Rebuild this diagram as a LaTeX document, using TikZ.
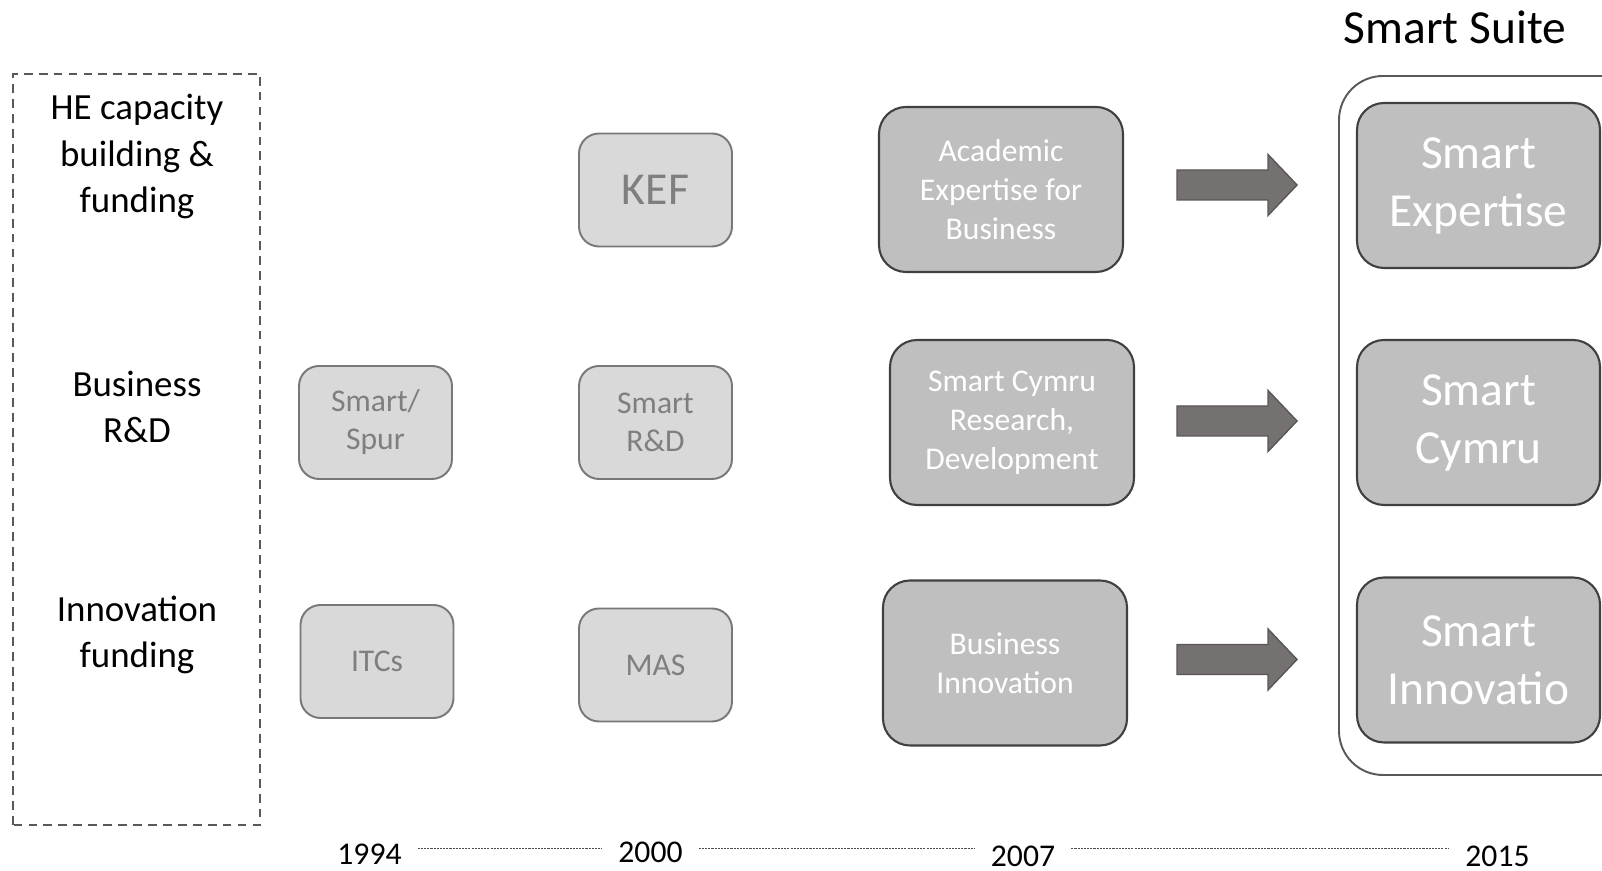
\documentclass[tikz,border=0pt]{standalone}
\usepackage{fontspec}
\setmainfont{Carlito}

\definecolor{outline}{HTML}{595959}
\definecolor{lightfill}{HTML}{D9D9D9}
\definecolor{lightedge}{HTML}{7A7777}
\definecolor{lighttext}{HTML}{7F7F7F}
\definecolor{darkfill}{HTML}{BFBFBF}
\definecolor{darkedge}{HTML}{404040}
\definecolor{arrowfill}{HTML}{767171}
\definecolor{arrowedge}{HTML}{5A5656}

\begin{document}
\begin{tikzpicture}[
    topic/.style={align=center, font=\fontsize{21}{26.5}\selectfont},
    oldbox/.style={draw=lightedge, fill=lightfill, line width=1.1pt,
      rounded corners=0.4cm, minimum width=3.06cm, minimum height=2.26cm,
      align=center, text=lighttext, font=\fontsize{18}{21.6}\selectfont},
    newbox/.style={draw=darkedge, fill=darkfill, line width=1.2pt,
      rounded corners=0.54cm, minimum width=4.88cm, minimum height=3.3cm,
      align=center, text=white, font=\fontsize{18}{22.3}\selectfont},
    smartbox/.style={newbox, minimum width=4.86cm,
      font=\fontsize{27}{33}\selectfont},
    bigarrow/.style={draw=arrowedge, fill=arrowfill, line width=0.8pt},
    year/.style={font=\fontsize{18}{22}\selectfont},
    timeline/.style={draw=black!70, line width=0.5pt,
      dash pattern=on 1.2pt off 0.6pt, shorten <=0.2cm, shorten >=0.2cm},
  ]
    \useasboundingbox (0,0) rectangle (32.04,17.42);

    % themes
    \draw[draw=outline, line width=1.1pt, dash pattern=on 5pt off 3.5pt]
      (0.26,0.92) rectangle (5.20,15.94);
    \node[topic] (he) at (2.74,14.29) {HE capacity\\building \&\\funding};
    \node[topic] (bus) at (2.74,9.28) {Business\\R\&D};
    \node[topic] (inn) at (2.74,4.72) {Innovation\\funding};

    % earlier schemes
    \node[oldbox] (spur) at (7.51,8.97) {Smart/\\Spur};
    \node[oldbox] (itc) at (7.54,4.19) {ITCs};
    \node[oldbox, font=\fontsize{26}{31}\selectfont] (kef) at (13.11,13.62) {KEF};
    \node[oldbox] (srd) at (13.11,8.97) {Smart\\R\&D};
    \node[oldbox] (mas) at (13.11,4.12) {MAS};

    \node[newbox] (aeb) at (20.02,13.63) {Academic\\Expertise for\\Business};
    \node[newbox] (scr) at (20.24,8.97) {Smart Cymru\\Research,\\Development};
    \node[newbox] (bi) at (20.10,4.16) {Business\\Innovation};

    \foreach \y in {13.72,9.00,4.23}
      \draw[bigarrow] (23.54,\y+0.3) -- (25.36,\y+0.3) -- (25.36,\y+0.61)
        -- (25.94,\y) -- (25.36,\y-0.61) -- (25.36,\y-0.3)
        -- (23.54,\y-0.3) -- cycle;

    % smart suite
    \node[font=\fontsize{27}{33}\selectfont] (suite) at (29.10,16.88) {Smart Suite};
    \draw[draw=outline, line width=1.1pt, rounded corners=0.88cm]
      (26.78,1.92) rectangle (33.2,15.90);
    \node[smartbox] (sexp) at (29.57,13.71) {Smart\\Expertise};
    \node[smartbox] (scym) at (29.57,8.97) {Smart\\Cymru};
    \node[smartbox] (sinn) at (29.57,4.22) {Smart\\Innovatio};

    % timeline
    \coordinate (tl) at (0,0.46);
    \node[year] (y1994) at (7.39,0.34) {1994};
    \node[year] (y2000) at (13.01,0.38) {2000};
    \node[year] (y2007) at (20.46,0.30) {2007};
    \node[year] (y2015) at (29.95,0.30) {2015};
    \draw[timeline] (y1994.east |- tl) -- (y2000.west |- tl);
    \draw[timeline] (y2000.east |- tl) -- (y2007.west |- tl);
    \draw[timeline] (y2007.east |- tl) -- (y2015.west |- tl);
  \end{tikzpicture}
\end{document}
